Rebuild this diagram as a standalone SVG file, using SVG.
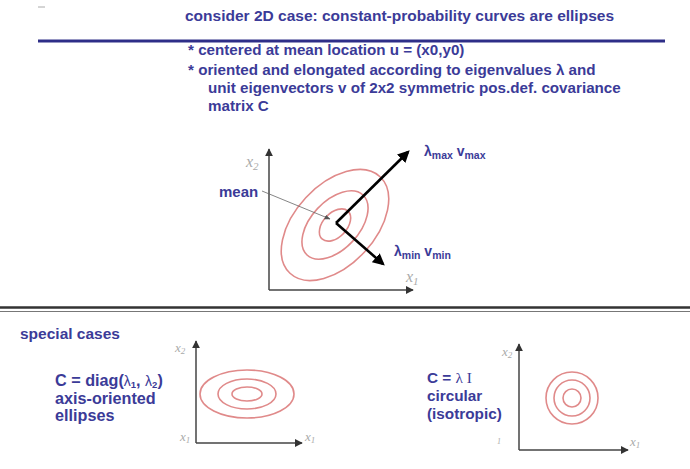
<svg xmlns="http://www.w3.org/2000/svg" width="690" height="469" viewBox="0 0 690 469">
<defs>
<style>
.t{font-family:"Liberation Sans",Arial,sans-serif;font-weight:bold;fill:#3b3b98;}
.ax{stroke:#444;stroke-width:1.5;fill:none;}
.el{stroke:#e08a8a;stroke-width:1.6;fill:none;}
.lab{font-family:"Liberation Serif","DejaVu Serif",serif;font-style:italic;fill:#aaa;}
.vec{stroke:#000;stroke-width:2.6;fill:none;}
</style>
<marker id="axh" viewBox="0 0 10 10" refX="9" refY="5" markerWidth="8" markerHeight="8" orient="auto" markerUnits="userSpaceOnUse">
<path d="M0,0 L10,5 L0,10 z" fill="#333"/>
</marker>
<marker id="vh" viewBox="0 0 10 10" refX="8" refY="5" markerWidth="12" markerHeight="12" orient="auto" markerUnits="userSpaceOnUse">
<path d="M0,0 L10,5 L0,10 z" fill="#000"/>
</marker>
<marker id="mh" viewBox="0 0 10 10" refX="9" refY="5" markerWidth="6" markerHeight="6" orient="auto" markerUnits="userSpaceOnUse">
<path d="M0,1 L10,5 L0,9 z" fill="#555"/>
</marker>
</defs>
<rect width="690" height="469" fill="#fff"/>
<line x1="38" y1="7" x2="45" y2="7" stroke="#aaa" stroke-width="1"/>

<g id="header">
<text class="t" x="185" y="21" font-size="15.5">consider 2D case: constant-probability curves are ellipses</text>
<line x1="38" y1="41" x2="665" y2="41" stroke="#2e2e88" stroke-width="3"/>
<text class="t" x="188" y="55" font-size="15.2">* centered at mean location u = (x0,y0)</text>
<text class="t" x="188" y="75" font-size="15.2">* oriented and elongated according to eigenvalues λ and</text>
<text class="t" x="208" y="93" font-size="15.2">unit eigenvectors v of 2x2 symmetric pos.def. covariance</text>
<text class="t" x="208" y="111" font-size="15.2">matrix C</text>
</g>

<g id="main-plot">
<line class="ax" x1="269" y1="290" x2="269" y2="149" marker-end="url(#axh)"/>
<line class="ax" x1="269" y1="290" x2="413" y2="290" marker-end="url(#axh)"/>
<text class="lab" x="246" y="167" font-size="16">x<tspan font-size="11" dy="3">2</tspan></text>
<text class="lab" x="406" y="282" font-size="16">x<tspan font-size="11" dy="3">1</tspan></text>
<g transform="translate(335,225) rotate(-47)">
<ellipse class="el" cx="0" cy="0" rx="66" ry="40"/>
<ellipse class="el" cx="0" cy="0" rx="41" ry="24"/>
<ellipse class="el" cx="0" cy="0" rx="19" ry="12"/>
</g>
</g>

<g id="connectors">
<line class="vec" x1="336" y1="223" x2="408" y2="152" marker-end="url(#vh)"/>
<line class="vec" x1="336" y1="223" x2="383" y2="264" marker-end="url(#vh)"/>
<line x1="262" y1="191" x2="330" y2="219" stroke="#666" stroke-width="0.8" marker-end="url(#mh)"/>
</g>

<g id="mean-label">
<text class="t" x="219" y="197" font-size="15">mean</text>
</g>
<g id="lmax-label">
<text class="t" x="424" y="156" font-size="14" font-weight="normal">λ<tspan font-size="10.5" dy="3" font-weight="bold">max</tspan><tspan dy="-3"> v</tspan><tspan font-size="10.5" dy="3">max</tspan></text>
</g>
<g id="lmin-label">
<text class="t" x="394" y="256" font-size="14" font-weight="normal">λ<tspan font-size="10.5" dy="3" font-weight="bold">min</tspan><tspan dy="-3"> v</tspan><tspan font-size="10.5" dy="3">min</tspan></text>
</g>

<g id="separator">
<line x1="0" y1="307.5" x2="690" y2="307.5" stroke="#333" stroke-width="2.5"/>
<line x1="0" y1="311.5" x2="690" y2="311.5" stroke="#777" stroke-width="1"/>
</g>

<g id="special-cases">
<text class="t" x="20" y="339" font-size="15.5">special cases</text>
</g>

<g id="diag-case">
<text class="t" x="55" y="386" font-size="16.2">C = diag(<tspan font-weight="normal" font-size="14">λ</tspan><tspan font-size="9.5" dy="2">1</tspan><tspan dy="-2">, </tspan><tspan font-weight="normal" font-size="14">λ</tspan><tspan font-size="9.5" dy="2">2</tspan><tspan dy="-2">)</tspan></text>
<text class="t" x="55" y="404" font-size="16.2">axis-oriented</text>
<text class="t" x="55" y="421" font-size="16.2">ellipses</text>
<line class="ax" x1="196" y1="443" x2="196" y2="341" marker-end="url(#axh)"/>
<line class="ax" x1="196" y1="443" x2="302" y2="443" marker-end="url(#axh)"/>
<text class="lab" x="175" y="352" font-size="13">x<tspan font-size="9" dy="2">2</tspan></text>
<text class="lab" x="180" y="441" font-size="13">x<tspan font-size="9" dy="2">1</tspan></text>
<text class="lab" x="305" y="441" font-size="13">x<tspan font-size="9" dy="2">1</tspan></text>
<ellipse class="el" cx="247" cy="394" rx="47" ry="24"/>
<ellipse class="el" cx="247" cy="394" rx="29" ry="15"/>
<ellipse class="el" cx="247" cy="394" rx="15" ry="7"/>
</g>

<g id="iso-case">
<text class="t" x="427" y="383" font-size="15.3">C = <tspan font-family="Liberation Serif,serif" font-weight="normal">λ I</tspan></text>
<text class="t" x="427" y="401" font-size="15.3">circular</text>
<text class="t" x="427" y="419" font-size="15.3">(isotropic)</text>
<line class="ax" x1="519" y1="450" x2="519" y2="344" marker-end="url(#axh)"/>
<line class="ax" x1="519" y1="450" x2="628" y2="450" marker-end="url(#axh)"/>
<text class="lab" x="502" y="356" font-size="13">x<tspan font-size="9" dy="2">2</tspan></text>
<text class="lab" x="497" y="444" font-size="8">1</text>
<text class="lab" x="630" y="446" font-size="13">x<tspan font-size="9" dy="2">1</tspan></text>
<circle class="el" cx="572" cy="398" r="26"/>
<circle class="el" cx="572" cy="398" r="18"/>
<circle class="el" cx="572" cy="398" r="9"/>
</g>
</svg>
